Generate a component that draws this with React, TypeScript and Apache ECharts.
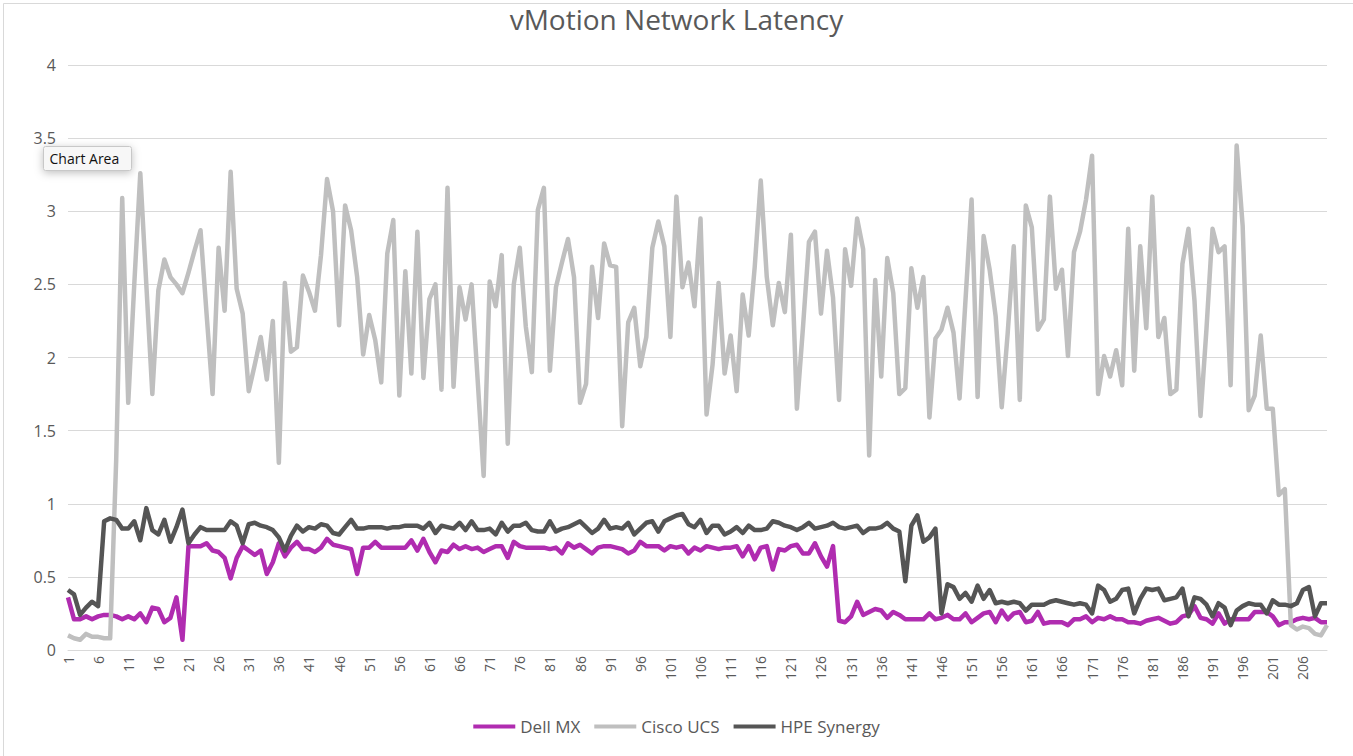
import React, { useEffect, useRef } from "react";
import * as echarts from "echarts";

const categories: string[] = Array.from({ length: 210 }, (_, i) => String(i + 1));

const dellMX: number[] = [
  0.36, 0.21, 0.21, 0.23, 0.21, 0.23, 0.24, 0.24, 0.23, 0.21,
  0.23, 0.21, 0.25, 0.19, 0.29, 0.28, 0.19, 0.22, 0.36, 0.07,
  0.71, 0.71, 0.71, 0.73, 0.68, 0.67, 0.63, 0.49, 0.63, 0.71,
  0.68, 0.65, 0.68, 0.52, 0.60, 0.73, 0.64, 0.70, 0.74, 0.69,
  0.69, 0.67, 0.70, 0.76, 0.72, 0.71, 0.70, 0.69, 0.52, 0.70,
  0.70, 0.74, 0.70, 0.70, 0.70, 0.70, 0.70, 0.75, 0.68, 0.76,
  0.67, 0.60, 0.68, 0.67, 0.72, 0.69, 0.71, 0.69, 0.70, 0.67,
  0.69, 0.71, 0.71, 0.63, 0.74, 0.71, 0.70, 0.70, 0.70, 0.70,
  0.69, 0.70, 0.66, 0.73, 0.70, 0.72, 0.69, 0.66, 0.70, 0.71,
  0.71, 0.70, 0.69, 0.66, 0.68, 0.74, 0.71, 0.71, 0.71, 0.68,
  0.71, 0.70, 0.71, 0.66, 0.70, 0.68, 0.71, 0.70, 0.69, 0.70,
  0.70, 0.71, 0.64, 0.71, 0.62, 0.70, 0.71, 0.55, 0.69, 0.68,
  0.71, 0.72, 0.66, 0.66, 0.73, 0.64, 0.57, 0.71, 0.20, 0.19,
  0.23, 0.33, 0.24, 0.26, 0.28, 0.27, 0.22, 0.26, 0.24, 0.21,
  0.21, 0.21, 0.21, 0.25, 0.21, 0.22, 0.24, 0.21, 0.21, 0.25,
  0.19, 0.22, 0.25, 0.26, 0.19, 0.27, 0.21, 0.25, 0.26, 0.19,
  0.20, 0.26, 0.18, 0.19, 0.19, 0.19, 0.17, 0.21, 0.21, 0.23,
  0.19, 0.22, 0.21, 0.23, 0.21, 0.21, 0.19, 0.19, 0.18, 0.20,
  0.21, 0.22, 0.20, 0.18, 0.19, 0.23, 0.24, 0.30, 0.22, 0.21,
  0.18, 0.25, 0.18, 0.21, 0.21, 0.21, 0.21, 0.26, 0.26, 0.26,
  0.23, 0.17, 0.19, 0.19, 0.21, 0.22, 0.21, 0.22, 0.19, 0.19,
];

const ciscoUCS: number[] = [
  0.10, 0.08, 0.07, 0.11, 0.09, 0.09, 0.08, 0.08, 1.30, 3.09,
  1.69, 2.50, 3.26, 2.50, 1.75, 2.46, 2.67, 2.55, 2.50, 2.44,
  2.58, 2.73, 2.87, 2.30, 1.75, 2.75, 2.32, 3.27, 2.47, 2.30,
  1.77, 1.95, 2.14, 1.85, 2.25, 1.28, 2.51, 2.04, 2.07, 2.56,
  2.45, 2.32, 2.70, 3.22, 3.00, 2.22, 3.04, 2.87, 2.55, 2.02,
  2.29, 2.12, 1.83, 2.71, 2.94, 1.74, 2.59, 1.89, 2.86, 1.86,
  2.40, 2.50, 1.78, 3.16, 1.80, 2.48, 2.26, 2.50, 1.85, 1.19,
  2.52, 2.35, 2.70, 1.41, 2.50, 2.75, 2.21, 1.90, 3.01, 3.16,
  1.91, 2.48, 2.65, 2.81, 2.55, 1.69, 1.82, 2.62, 2.27, 2.78,
  2.63, 2.62, 1.53, 2.24, 2.34, 1.94, 2.14, 2.75, 2.93, 2.76,
  2.14, 3.10, 2.48, 2.65, 2.35, 2.95, 1.61, 1.95, 2.51, 1.89,
  2.15, 1.77, 2.43, 2.15, 2.62, 3.21, 2.55, 2.22, 2.51, 2.31,
  2.84, 1.65, 2.20, 2.79, 2.86, 2.30, 2.73, 2.41, 1.71, 2.74,
  2.49, 2.95, 2.74, 1.33, 2.53, 1.87, 2.68, 2.44, 1.75, 1.79,
  2.61, 2.34, 2.55, 1.59, 2.13, 2.19, 2.34, 2.17, 1.72, 2.40,
  3.08, 1.73, 2.83, 2.60, 2.28, 1.66, 2.17, 2.76, 1.71, 3.04,
  2.89, 2.19, 2.26, 3.10, 2.47, 2.60, 2.01, 2.72, 2.86, 3.08,
  3.38, 1.75, 2.01, 1.87, 2.05, 1.81, 2.88, 1.91, 2.76, 2.20,
  3.10, 2.14, 2.27, 1.75, 1.78, 2.64, 2.88, 2.39, 1.60, 2.20,
  2.88, 2.72, 2.76, 1.81, 3.45, 2.90, 1.64, 1.74, 2.15, 1.65,
  1.65, 1.06, 1.10, 0.17, 0.14, 0.16, 0.15, 0.11, 0.10, 0.17,
];

const hpeSynergy: number[] = [
  0.41, 0.38, 0.24, 0.29, 0.33, 0.30, 0.88, 0.90, 0.89, 0.83,
  0.83, 0.88, 0.75, 0.97, 0.82, 0.79, 0.89, 0.74, 0.84, 0.96,
  0.73, 0.79, 0.84, 0.82, 0.82, 0.82, 0.82, 0.88, 0.85, 0.73,
  0.86, 0.87, 0.85, 0.84, 0.82, 0.77, 0.68, 0.78, 0.85, 0.81,
  0.84, 0.83, 0.86, 0.85, 0.80, 0.79, 0.84, 0.89, 0.83, 0.83,
  0.84, 0.84, 0.84, 0.83, 0.84, 0.84, 0.85, 0.85, 0.85, 0.83,
  0.87, 0.80, 0.85, 0.84, 0.83, 0.87, 0.82, 0.88, 0.82, 0.82,
  0.83, 0.79, 0.87, 0.81, 0.85, 0.85, 0.87, 0.82, 0.81, 0.81,
  0.88, 0.81, 0.83, 0.84, 0.86, 0.88, 0.84, 0.80, 0.83, 0.89,
  0.83, 0.84, 0.83, 0.87, 0.79, 0.83, 0.87, 0.88, 0.81, 0.88,
  0.90, 0.92, 0.93, 0.86, 0.84, 0.89, 0.80, 0.85, 0.85, 0.79,
  0.81, 0.84, 0.80, 0.85, 0.82, 0.82, 0.83, 0.88, 0.87, 0.85,
  0.84, 0.82, 0.84, 0.87, 0.83, 0.84, 0.85, 0.87, 0.84, 0.83,
  0.84, 0.85, 0.80, 0.83, 0.83, 0.84, 0.87, 0.83, 0.81, 0.47,
  0.85, 0.92, 0.74, 0.77, 0.83, 0.25, 0.45, 0.43, 0.35, 0.39,
  0.33, 0.44, 0.35, 0.41, 0.32, 0.33, 0.32, 0.33, 0.32, 0.27,
  0.31, 0.31, 0.31, 0.33, 0.34, 0.33, 0.32, 0.31, 0.32, 0.31,
  0.25, 0.44, 0.41, 0.33, 0.35, 0.41, 0.42, 0.25, 0.35, 0.42,
  0.41, 0.42, 0.34, 0.35, 0.36, 0.42, 0.23, 0.36, 0.35, 0.31,
  0.23, 0.32, 0.29, 0.17, 0.27, 0.30, 0.32, 0.31, 0.31, 0.25,
  0.34, 0.31, 0.31, 0.30, 0.32, 0.41, 0.43, 0.23, 0.32, 0.32,
];

const seriesNames = ["Dell MX", "Cisco UCS", "HPE Synergy"];
const seriesColors = ["#B02CB0", "#BFBFBF", "#555555"];
const yTicks = { min: 0, max: 4, interval: 0.5 };

export default function App() {
  const ref = useRef<HTMLDivElement>(null);

  useEffect(() => {
    if (!ref.current) return;
    const chart = echarts.init(ref.current, undefined, { renderer: "svg" });
    const font = "'Open Sans', Lato, sans-serif";
    const data = [dellMX, ciscoUCS, hpeSynergy];
    chart.setOption({
      animation: false,
      backgroundColor: "#ffffff",
      textStyle: { fontFamily: font },
      title: {
        text: "vMotion Network Latency",
        left: "center",
        top: 0,
        textStyle: { fontSize: 28, fontWeight: "normal", color: "#595959", fontFamily: font },
      },
      grid: { left: 68, right: 26, top: 65, bottom: 106, containLabel: false },
      legend: {
        data: seriesNames,
        bottom: 16,
        left: "center",
        icon: "rect",
        itemWidth: 42,
        itemHeight: 4,
        itemGap: 14,
        textStyle: { fontSize: 17, color: "#595959", fontFamily: font },
      },
      xAxis: {
        type: "category",
        data: categories,
        boundaryGap: false,
        axisLine: { show: true, lineStyle: { color: "#d9d9d9", width: 1 } },
        axisTick: { show: false },
        axisLabel: {
          interval: 4,
          rotate: 90,
          fontSize: 14,
          color: "#595959",
          margin: 6,
          fontFamily: font,
        },
        splitLine: { show: false },
      },
      yAxis: {
        type: "value",
        min: yTicks.min,
        max: yTicks.max,
        interval: yTicks.interval,
        axisLine: { show: false },
        axisTick: { show: false },
        axisLabel: { fontSize: 16, color: "#595959", margin: 12, fontFamily: font },
        splitLine: { lineStyle: { color: "#d9d9d9", width: 1 } },
      },
      series: seriesNames.map((name, i) => ({
        name,
        type: "line",
        data: data[i],
        symbol: "none",
        smooth: false,
        color: seriesColors[i],
        lineStyle: { width: 4.5, color: seriesColors[i], join: "round" },
        z: 2 + i,
      })),
      graphic: [
        {
          type: "rect",
          left: 1,
          top: 1,
          shape: { width: 1350, height: 753 },
          style: { fill: "none", stroke: "#d9d9d9", lineWidth: 1 },
          silent: true,
        },
        {
          type: "group",
          left: 43,
          top: 146,
          children: [
            {
              type: "rect",
              shape: { x: 0, y: 0, width: 88, height: 24, r: 2 },
              style: {
                fill: "#f7f7f7",
                stroke: "#c8c8c8",
                lineWidth: 1,
                shadowBlur: 8,
                shadowColor: "rgba(0,0,0,0.25)",
                shadowOffsetY: 2,
              },
            },
            {
              type: "text",
              x: 6,
              y: 12,
              style: {
                text: "Chart Area",
                fontSize: 14,
                fill: "#111111",
                fontFamily: "'Open Sans', Lato, sans-serif",
                verticalAlign: "middle",
              },
            },
          ],
        },
      ],
    });
    return () => chart.dispose();
  }, []);

  return (
    <div
      ref={ref}
      style={{ position: "fixed", left: 0, top: 0, width: 1353, height: 756 }}
    />
  );
}
